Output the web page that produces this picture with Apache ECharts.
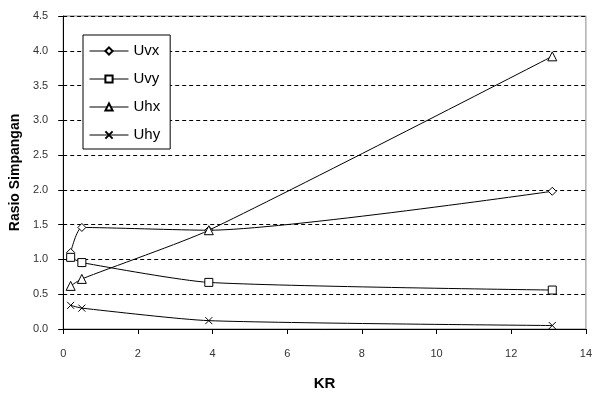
<!DOCTYPE html>
<html>
<head>
<meta charset="utf-8">
<script src="https://cdn.jsdelivr.net/npm/echarts@6/dist/echarts.min.js"></script>
<style>
  html, body { margin: 0; padding: 0; background: #fff; }
  #chart { width: 595px; height: 396px; }
</style>
</head>
<body>
<div id="chart"></div>
<script>
// KR values shared by every series
const kr = [0.2, 0.5, 3.9, 13.1];

const uvx = [1.1, 1.46, 1.42, 1.98];
const uvy = [1.03, 0.955, 0.67, 0.56];
const uhx = [0.62, 0.72, 1.42, 3.92];
const uhy = [0.34, 0.3, 0.12, 0.05];

const seriesNames = ['Uvx', 'Uvy', 'Uhx', 'Uhy'];
const seriesValues = [uvx, uvy, uhx, uhy];
const symbols = [
  'diamond',
  'rect',
  'triangle',
  'path://M0,0L10,10M10,0L0,10',
];
const symbolSizes = [8, 8, 9, 7];

const font = 'Arial, "Liberation Sans", sans-serif';

const chart = echarts.init(document.getElementById('chart'));

chart.setOption({
  animation: false,
  backgroundColor: '#fff',
  grid: {
    left: 61,
    right: 8,
    top: 16,
    bottom: 66,
    show: true,
    borderColor: '#888',
    borderWidth: 1,
  },
  legend: {
    orient: 'vertical',
    left: 83,
    top: 35,
    padding: [8, 10, 6, 6],
    itemGap: 12,
    itemWidth: 39,
    itemHeight: 9,
    backgroundColor: '#fff',
    borderColor: '#000',
    borderWidth: 1,
    borderRadius: 0,
    lineStyle: { width: 1, color: '#000' },
    textStyle: { fontFamily: font, fontSize: 15, color: '#000', lineHeight: 16 },
    data: seriesNames,
  },
  xAxis: {
    type: 'value',
    min: 0,
    max: 14,
    interval: 2,
    name: 'KR',
    nameLocation: 'middle',
    nameGap: 47,
    nameTextStyle: { fontFamily: font, fontSize: 15, fontWeight: 'bold', color: '#000' },
    axisLine: { show: true, lineStyle: { color: '#000', width: 1 } },
    axisTick: { show: true, inside: false, length: 5, lineStyle: { color: '#000' } },
    axisLabel: { fontFamily: font, fontSize: 11, color: '#333', margin: 19 },
    splitLine: { show: false },
  },
  yAxis: {
    type: 'value',
    min: 0,
    max: 4.5,
    interval: 0.5,
    name: 'Rasio Simpangan',
    nameLocation: 'middle',
    nameGap: 34,
    nameTextStyle: { fontFamily: font, fontSize: 14, fontWeight: 'bold', color: '#000' },
    axisLine: { show: true, lineStyle: { color: '#000', width: 1 } },
    axisTick: { show: true, inside: false, length: 5, lineStyle: { color: '#000' } },
    axisLabel: {
      fontFamily: font,
      fontSize: 11,
      color: '#333',
      margin: 15,
      formatter: (v) => v.toFixed(1),
    },
    splitLine: {
      show: true,
      lineStyle: { color: '#000', width: 1, type: [4, 3] },
    },
  },
  series: seriesNames.map((name, i) => ({
    name,
    type: 'line',
    smooth: 0.2,
    data: kr.map((x, j) => [x, seriesValues[i][j]]),
    symbol: symbols[i],
    symbolSize: symbolSizes[i],
    showAllSymbol: true,
    lineStyle: { color: '#000', width: 1 },
    itemStyle: { color: '#fff', borderColor: '#000', borderWidth: 1 },
    emphasis: { disabled: true },
    z: 3 + i,
  })),
});
</script>
</body>
</html>
